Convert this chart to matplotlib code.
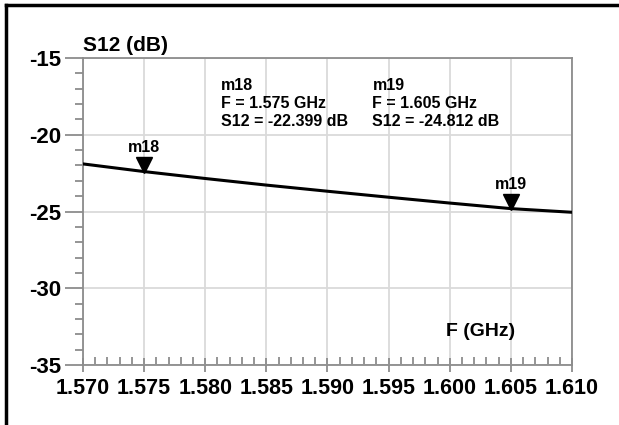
import numpy as np
import matplotlib
matplotlib.use("Agg")
import matplotlib.pyplot as plt
from matplotlib.lines import Line2D
from matplotlib.ticker import MultipleLocator

plt.rcParams['font.family'] = ['Liberation Sans', 'DejaVu Sans']
plt.rcParams['font.weight'] = 'bold'
plt.rcParams['axes.unicode_minus'] = False

# S12 sweep (GHz, dB)
freq = [1.570, 1.575, 1.580, 1.585, 1.590, 1.595, 1.600, 1.605, 1.610]
s12 = [-21.90, -22.399, -22.85, -23.28, -23.68, -24.07, -24.45, -24.812, -25.05]

# markers
mk_names = ['m18', 'm19']
mk_freq = [1.575, 1.605]
mk_s12 = [-22.399, -24.812]

xticks = [1.570, 1.575, 1.580, 1.585, 1.590, 1.595, 1.600, 1.605, 1.610]
yticks = [-35, -30, -25, -20, -15]

fig = plt.figure(figsize=(6.19, 4.25), dpi=100)
ax = fig.add_axes([83 / 619, 60 / 425, 489 / 619, 307 / 425])

ax.plot(freq, s12, color='black', lw=2.2, zorder=3)
ax.plot(mk_freq, [v + 0.45 for v in mk_s12], 'v', color='black', ms=11, zorder=4)
for name, f, v in zip(mk_names, mk_freq, mk_s12):
    ax.text(f, v + 1.05, name, ha='center', va='bottom', fontsize=11.5, fontweight='bold')

ax.set_xlim(1.570, 1.610)
ax.set_ylim(-35, -15)
ax.set_xticks(xticks)
ax.set_xticklabels(['%.3f' % t for t in xticks])
ax.set_yticks(yticks)
ax.xaxis.set_minor_locator(MultipleLocator(0.001))
ax.yaxis.set_minor_locator(MultipleLocator(1))

ax.grid(True, which='major', color='#dadada', lw=1.3)
ax.set_axisbelow(True)
for sp in ax.spines.values():
    sp.set_color('#8c8c8c')
    sp.set_linewidth(1.3)

ax.tick_params(axis='y', which='major', direction='out', length=13, width=1.3,
               color='#8c8c8c', labelsize=16, pad=3)
ax.tick_params(axis='y', which='minor', direction='out', length=6, width=1.3,
               color='#8c8c8c')
ax.tick_params(axis='x', which='major', direction='inout', length=10, width=1.3,
               color='#8c8c8c', labelsize=15.5, pad=4)
ax.tick_params(axis='x', which='minor', direction='in', length=6, width=1.3,
               color='#8c8c8c')

ax.text(0.0, 1.01, 'S12 (dB)', transform=ax.transAxes, ha='left', va='bottom',
        fontsize=15, fontweight='bold')
ax.text(0.812, 0.11, 'F (GHz)', transform=ax.transAxes, ha='center', va='center',
        fontsize=14, fontweight='bold')

# marker readouts
for i, (name, f, v) in enumerate(zip(mk_names, mk_freq, mk_s12)):
    txt = '%s\nF = %.3f GHz\nS12 = %.3f dB' % (name, f, v)
    ax.text(0.282 + i * 0.31, 0.935, txt, transform=ax.transAxes, ha='left', va='top',
            fontsize=11.5, fontweight='bold', linespacing=1.25)

# cell border lines
fig.add_artist(Line2D([6 / 619, 1.0], [1 - 5 / 425, 1 - 5 / 425], color='black', lw=2.5))
fig.add_artist(Line2D([6 / 619, 6 / 619], [0.0, 1 - 5 / 425], color='black', lw=2.5))

fig.savefig('out.png', dpi=100)
